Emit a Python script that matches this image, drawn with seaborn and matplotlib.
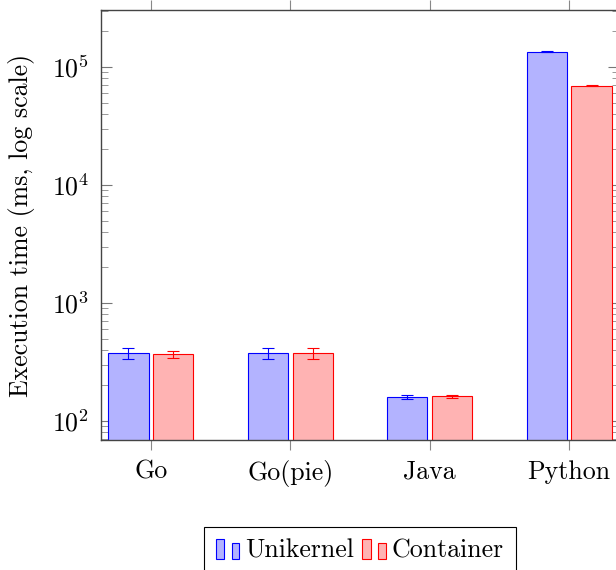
import matplotlib
matplotlib.use("Agg")
import numpy as np
import pandas as pd
import seaborn as sns
import matplotlib.pyplot as plt
from matplotlib.patches import Rectangle
from matplotlib.legend_handler import HandlerBase
from matplotlib.ticker import LogLocator, NullFormatter, FixedLocator, FixedFormatter

# Execution time per runtime (ms), mean and error half-width
categories = ["Go", "Go(pie)", "Java", "Python"]
variants = ["Unikernel", "Container"]
unikernel_ms = [375, 375, 160, 134800]
unikernel_err = [42, 42, 6, 700]
container_ms = [366, 375, 162, 69500]
container_err = [25, 40, 5, 400]
y_ticks = [1e2, 1e3, 1e4, 1e5]
y_tick_labels = [r"$10^{2}$", r"$10^{3}$", r"$10^{4}$", r"$10^{5}$"]

fills = {"Unikernel": "#b3b3ff", "Container": "#ffb3b3"}
edges = {"Unikernel": "#0000ff", "Container": "#ff0000"}
errors = {"Unikernel": unikernel_err, "Container": container_err}
means = {"Unikernel": unikernel_ms, "Container": container_ms}

df = pd.DataFrame({
    "category": categories * 2,
    "variant": [variants[0]] * len(categories) + [variants[1]] * len(categories),
    "ms": unikernel_ms + container_ms,
})

sns.set_theme(style="white")
plt.rcParams.update({
    "font.family": "serif",
    "font.serif": ["cmr10"],
    "mathtext.fontset": "cm",
    "axes.formatter.use_mathtext": True,
    "axes.unicode_minus": False,
    "text.color": "black",
    "axes.labelcolor": "black",
})

FS = 18.6
fig = plt.figure(figsize=(6.16, 5.70), dpi=100)
ax = fig.add_axes([101 / 616, 130 / 570, 518 / 616, 430 / 570])

sns.barplot(
    data=df, x="category", y="ms", hue="variant", order=categories,
    hue_order=variants, palette=fills, saturation=1, width=0.644, gap=0.1,
    errorbar=None, linewidth=0.8, ax=ax, legend=False,
)

ax.set_yscale("log")
for cont, var in zip(ax.containers, variants):
    xs = []
    for p in cont.patches:
        p.set_facecolor(fills[var])
        p.set_edgecolor(edges[var])
        p.set_linewidth(0.8)
        xs.append(p.get_x() + p.get_width() / 2)
    ax.errorbar(xs, means[var], yerr=errors[var], fmt="none", ecolor=edges[var],
                elinewidth=0.8, capsize=4, capthick=0.8, zorder=3)

ax.set_xlim(-0.357, 3.357)
ax.set_ylim(69, 304000)

ax.yaxis.set_major_locator(FixedLocator(y_ticks))
ax.yaxis.set_major_formatter(FixedFormatter(y_tick_labels))
ax.yaxis.set_minor_locator(LogLocator(base=10, subs=np.arange(2, 10), numticks=20))
ax.yaxis.set_minor_formatter(NullFormatter())

ax.tick_params(axis="y", which="major", direction="in", length=8, width=0.8,
               color="#777777", left=True, right=True, labelsize=FS, pad=8.6,
               labelcolor="black")
ax.tick_params(axis="y", which="minor", direction="in", length=5, width=0.6,
               color="#888888", left=True, right=True)
ax.tick_params(axis="x", which="major", direction="out", length=7.2, width=0.8,
               color="#888888", bottom=True, top=True, labelsize=FS, pad=7.2,
               labelcolor="black")

for s in ax.spines.values():
    s.set_color("#444444")
    s.set_linewidth(1.0)
    s.set_visible(True)

ax.set_xlabel("")
ax.set_ylabel("Execution time (ms, log scale)", fontsize=FS, color="black")
ax.yaxis.set_label_coords(-0.127, 0.5)


class TwoBarHandler(HandlerBase):
    def create_artists(self, legend, orig_handle, xdescent, ydescent,
                       width, height, fontsize, trans):
        fc = orig_handle.get_facecolor()
        ec = orig_handle.get_edgecolor()
        x0, y0 = -xdescent, -ydescent
        tall = Rectangle((x0, y0), 0.356 * width, height, facecolor=fc,
                         edgecolor=ec, linewidth=0.8, transform=trans)
        short = Rectangle((x0 + 0.687 * width, y0), 0.313 * width, 0.76 * height,
                          facecolor=fc, edgecolor=ec, linewidth=0.8, transform=trans)
        return [tall, short]


handles = [Rectangle((0, 0), 1, 1, facecolor=fills[v], edgecolor=edges[v]) for v in variants]
leg = fig.legend(
    handles=handles, labels=variants, loc="upper center",
    bbox_to_anchor=(360 / 616, 1 - 527 / 570), ncol=2,
    handler_map={Rectangle: TwoBarHandler()}, frameon=True, fancybox=False,
    edgecolor="black", framealpha=1, handlelength=0.9, handleheight=0.81,
    handletextpad=0.25, columnspacing=0.3, borderpad=0.45, fontsize=FS,
    borderaxespad=0,
)
leg.get_frame().set_linewidth(0.8)
for t in leg.get_texts():
    t.set_color("black")

fig.savefig("out.png", dpi=100)
